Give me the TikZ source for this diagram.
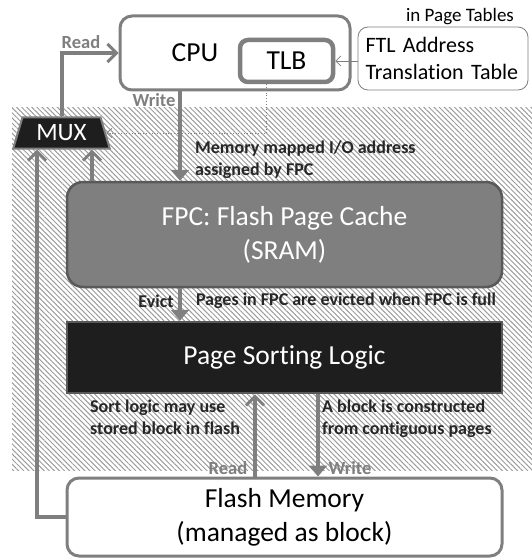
\documentclass[tikz,border=0pt]{standalone}
\usepackage{fontspec}
\setmainfont{Carlito}[Ligatures=NoCommon]
\usetikzlibrary{arrows.meta,shapes.geometric,patterns.meta}
\definecolor{lg}{HTML}{7F7F7F}
\definecolor{dg}{HTML}{595959}
\definecolor{blk}{HTML}{1E1E1E}
\definecolor{txt}{HTML}{262626}
\definecolor{hatch}{HTML}{9C9C9C}
\tikzset{
  big/.style={font=\fontsize{27.5}{34}\selectfont},
  lbl/.style={font=\fontsize{18}{22}\selectfont\bfseries, text=txt, inner sep=0},
  glbl/.style={font=\fontsize{18.5}{22}\selectfont\bfseries, text=lg, inner sep=0},
  wbox/.style={draw=lg, line width=3pt, rounded corners=12pt, fill=white},
  arr/.style={draw=lg, line width=4pt, -{Triangle[length=11pt,width=18pt]}},
  barb/.style={draw=lg, line width=4pt, -{Straight Barb[length=9pt,width=18pt,line width=3pt]}},
}
\begin{document}
\begin{tikzpicture}[x=1pt,y=-1pt]
\useasboundingbox (0,0) rectangle (532,559);
% hatched area
\path[pattern={Lines[angle=-45,distance=3.6pt,line width=1pt]}, pattern color=hatch]
  (12,108) rectangle (532,470);
% boxes
\node[wbox, minimum width=230, minimum height=74] (cpu) at (235,53) {};
\node[big, inner sep=0] (cputxt) at (195,53) {CPU};
\node[draw=lg, line width=4.5pt, rounded corners=8pt, fill=white, minimum width=93, minimum height=42, big, inner sep=0] (tlb) at (286.5,61) {TLB};
\node[draw=lg, line width=0.8pt, rounded corners=10pt, fill=white, minimum width=170, minimum height=63, align=left, font=\fontsize{22}{27}\selectfont, inner sep=0, text width=155] (ftl) at (443,58.5) {FTL Address\\Translation Table};
\node[font=\fontsize{19}{23}\selectfont, inner sep=0] (ipt) at (460,17) {in Page Tables};
\node[trapezium, trapezium left angle=70, trapezium right angle=70, trapezium stretches=true, minimum width=97, minimum height=31, inner sep=0, fill=blk, draw=lg, line width=2pt, text=white, font=\fontsize{25}{30}\selectfont] (mux) at (61.5,133) {MUX};
\node[fill=lg, draw=dg, line width=2.5pt, rounded corners=16pt, minimum width=435, minimum height=105, text=white, big, align=center] (fpc) at (284.5,234.5) {FPC: Flash Page Cache\\(SRAM)};
\node[fill=blk, draw=dg, line width=2.5pt, minimum width=435, minimum height=71, text=white, big] (psl) at (284.5,357.5) {Page Sorting Logic};
\node[wbox, minimum width=435, minimum height=78, big, align=center] (flash) at (284.5,517) {Flash Memory\\(managed as block)};
% helper coordinates
\coordinate (xw) at (180,0);
\coordinate (xd) at (266,0);
\coordinate (xr) at (255,0);
\coordinate (xl) at (318,0);
\coordinate (xa) at (37,0);
\coordinate (xb) at (92,0);
% connectors
\draw[barb] (mux.north) |- (cpu.west);
\draw[arr] (cpu.south -| xw) -- (fpc.north -| xw);
\draw[lg, line width=0.8pt, dotted, -{Straight Barb[length=5pt,width=9pt]}] (tlb.south -| xd) |- (mux.east);
\draw[lg, line width=0.8pt, -{Straight Barb[length=5pt,width=10pt]}] (ftl.west |- tlb.east) -- (tlb.east);
\draw[barb] (flash.west) -| (mux.south -| xa);
\draw[barb] (fpc.north -| xb) -- (mux.south -| xb);
\draw[arr] (fpc.south -| xw) -- (psl.north -| xw);
\draw[barb] (flash.north -| xr) -- (psl.south -| xr);
\draw[arr] (psl.south -| xl) -- (flash.north -| xl);
% labels
\node[glbl] (lread) at (81,42) {Read};
\node[glbl] (lwrite) at (154,100) {Write};
\node[lbl, anchor=north west, align=left] (mm) at (195,141) {Memory mapped I/O address\\assigned by FPC};
\node[lbl] (levict) at (156,301) {Evict};
\node[lbl] (lpages) at (346,301) {Pages in FPC are evicted when FPC is full};
\node[lbl, anchor=north west, align=left] (lsort) at (90,400) {Sort logic may use\\stored block in flash};
\node[lbl, anchor=north west, align=left] (lblock) at (322,400) {A block is constructed\\from contiguous pages};
\node[glbl] (lread2) at (228,468) {Read};
\node[glbl] (lwrite2) at (350,468) {Write};
\end{tikzpicture}
\end{document}
